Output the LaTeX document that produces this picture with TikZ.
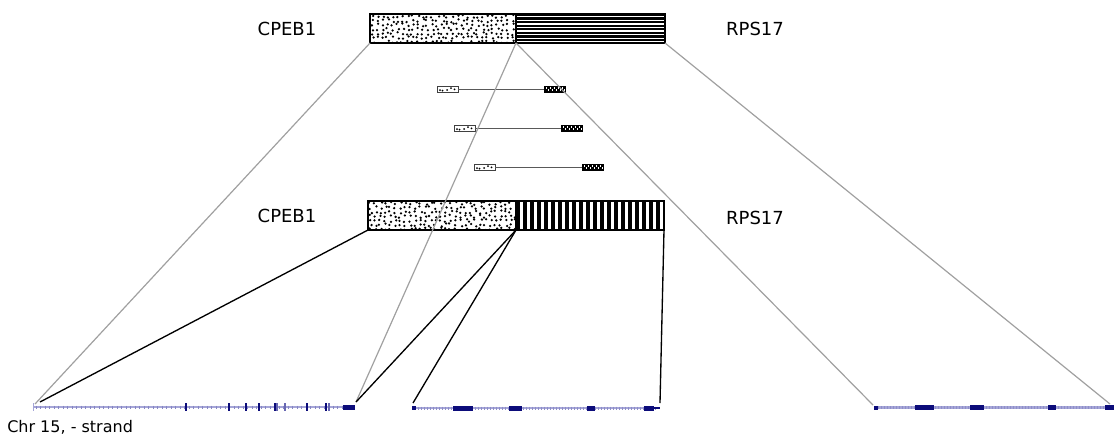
\documentclass[tikz,border=0pt]{standalone}
\usepackage{fontspec}
\setmainfont{DejaVu Sans}
\definecolor{exonblue}{RGB}{12,12,122}
\definecolor{intronblue}{RGB}{165,165,215}
\definecolor{guidegray}{RGB}{160,160,160}
% each fill macro takes a node name, clips to it and works in pixel offsets from its top-left corner
% scattered dots (node, columns, rows, seed)
\newcommand\dotfield[4]{%
  \pgfmathsetseed{#4}%
  \begin{scope}
    \clip (#1.north west) rectangle (#1.south east);
    \begin{scope}[shift={(#1.north west)}]
      \foreach \i in {0,...,#2}{\foreach \j in {0,...,#3}{
        \fill (\i*5+2.5+rand*1.7, \j*4.3+2.4+rand*1.5) circle[radius=0.95pt];
      }}
    \end{scope}
  \end{scope}
  \draw[line width=1pt] (#1.north west) rectangle (#1.south east);}
% horizontal black/white stripes
\newcommand\hstripes[1]{%
  \begin{scope}
    \clip (#1.north west) rectangle (#1.south east);
    \begin{scope}[shift={(#1.north west)}]
      \fill[black] (0,0) rectangle (150,30);
      \foreach \k in {0,...,7}{\fill[white] (0,1.9+\k*3.6) rectangle (150,3.4+\k*3.6);}
    \end{scope}
  \end{scope}
  \draw[line width=1pt] (#1.north west) rectangle (#1.south east);}
% vertical black/white stripes
\newcommand\vstripes[1]{%
  \begin{scope}
    \clip (#1.north west) rectangle (#1.south east);
    \begin{scope}[shift={(#1.north west)}]
      \foreach \k in {0,...,21}{\fill[black] (\k*7,0) rectangle (\k*7+3.6,30);}
    \end{scope}
  \end{scope}
  \draw[line width=1pt] (#1.north west) rectangle (#1.south east);}
% checkered fill of the small read boxes
\newcommand\checkfill[1]{%
  \begin{scope}
    \clip (#1.north west) rectangle (#1.south east);
    \begin{scope}[shift={(#1.north west)}]
      \fill[black] (0,0) rectangle (22,7);
      \foreach \k in {0,...,4}{
        \fill[white] (1.5+\k*4,1.2) rectangle (3+\k*4,2.7);
        \fill[white] (3.5+\k*4,3.4) rectangle (5+\k*4,4.9);}
    \end{scope}
  \end{scope}
  \draw[line width=0.5pt] (#1.north west) rectangle (#1.south east);}
% sparse dots of the small read boxes
\newcommand\sparsefill[1]{%
  \begin{scope}[shift={(#1.north west)}]
    \fill (3,4.2) circle[radius=0.75pt];
    \fill (5.5,4.6) circle[radius=0.75pt];
    \fill (10,4) circle[radius=0.75pt];
    \fill (14,2.2) circle[radius=0.75pt];
    \fill (17.5,3.4) circle[radius=0.75pt];
  \end{scope}}
\begin{document}
\begin{tikzpicture}[x=0.75pt,y=-0.75pt,
  barbox/.style={draw=black, line width=1pt, inner sep=0pt, outer sep=0pt,
    anchor=north west, minimum height=21.75pt},
  genelabel/.style={font=\fontsize{13.5}{16}\selectfont, inner sep=0pt},
  readleft/.style={draw=black!75, line width=0.5pt, inner sep=0pt, outer sep=0pt,
    anchor=west, minimum width=16pt, minimum height=4.5pt},
  readright/.style={draw=black, line width=0.5pt, inner sep=0pt, outer sep=0pt,
    anchor=west, minimum width=15.75pt, minimum height=4.5pt},
  readlink/.style={draw=black!65, line width=0.5pt},
  guide/.style={draw=guidegray, line width=0.9pt},
  link/.style={draw=black, line width=1pt},
  intron/.style={draw=intronblue, line width=1.6pt},
  exontick/.style={draw=exonblue, line width=1.1pt},
  exon/.style={fill=exonblue}
]
\useasboundingbox (0,0) rectangle (1114,436);

% fused transcript, first form
\node[barbox, minimum width=109.5pt] (cpebA) at (370,14) {};
\node[barbox, minimum width=111.75pt] (rpsA) at (516,14) {};
\dotfield{cpebA}{29}{6}{11}
\hstripes{rpsA}
\node[genelabel] (labCpebA) at (287,29) {CPEB1};
\node[genelabel] (labRpsA) at (755,29) {RPS17};

% fused transcript, second form
\node[barbox, minimum width=111pt] (cpebB) at (368,201) {};
\node[barbox, minimum width=111pt] (rpsB) at (516,201) {};
\dotfield{cpebB}{29}{6}{23}
\vstripes{rpsB}
\node[genelabel] (labCpebB) at (287,216) {CPEB1};
\node[genelabel] (labRpsB) at (755,218) {RPS17};

% supporting read pairs
\node[readleft] (r1a) at (437,89) {};
\node[readright] (r1b) at (544,89) {};
\sparsefill{r1a}\checkfill{r1b}
\draw[readlink] (r1a.east) -- (r1b.west);
\node[readleft] (r2a) at (454,128) {};
\node[readright] (r2b) at (561,128) {};
\sparsefill{r2a}\checkfill{r2b}
\draw[readlink] (r2a.east) -- (r2b.west);
\node[readleft] (r3a) at (474,167) {};
\node[readright] (r3b) at (582,167) {};
\sparsefill{r3a}\checkfill{r3b}
\draw[readlink] (r3a.east) -- (r3b.west);

% genomic tracks
% CPEB1 locus
\draw[intron] (33,407) -- (345,407);
\foreach \x in {36,40.5,...,342}{\draw[intronblue!80!exonblue, line width=0.4pt] (\x,405.5) -- (\x,408.5);}
\draw[intronblue, line width=1.2pt] (33.5,403) -- (33.5,411);
\foreach \x in {186,229,246,259,275,307,326}{\draw[exontick] (\x,403) -- (\x,411);}
\foreach \x in {277,285,329}{\draw[intronblue!60!exonblue, line width=1pt] (\x,403) -- (\x,411);}
\fill[exon] (343,405) rectangle (355,409.5);
\coordinate (g1l) at (35,404);
\coordinate (g1lb) at (40,402);
\coordinate (g1r) at (356,402);

% RPS17 locus, middle copy
\draw[intron] (413,408) -- (659,408);
\foreach \x in {415,418,...,656}{\draw[intronblue!85!exonblue, line width=0.3pt] (\x,406.5) -- (\x,409.5);}
\fill[exon] (412,406) rectangle (416,410);
\fill[exon] (453,405.5) rectangle (473,410.5);
\fill[exon] (509,405.5) rectangle (522,410.5);
\fill[exon] (587,405.5) rectangle (595,410.5);
\fill[exon] (644,405.5) rectangle (654,410.5);
\fill[exon] (654,407) rectangle (660,409);
\coordinate (g2l) at (413,403);
\coordinate (g2r) at (660,403);

% RPS17 locus, right copy
\draw[intron] (875,407.5) -- (1114,407.5);
\foreach \x in {878,881,...,1103}{\draw[intronblue!85!exonblue, line width=0.3pt] (\x,406) -- (\x,409);}
\fill[exon] (874,405.5) rectangle (878,409.5);
\fill[exon] (915,405) rectangle (934,410);
\fill[exon] (970,405) rectangle (984,410);
\fill[exon] (1048,405) rectangle (1056,410);
\fill[exon] (1105,405) rectangle (1114,410);
\coordinate (g3l) at (873,405);
\coordinate (g3r) at (1110,404);

\node[anchor=west, font=\fontsize{12}{14}\selectfont, inner sep=0pt] (chr) at (7,427) {Chr 15, - strand};

% guide lines from the first form
\draw[guide] (cpebA.south west) -- (g1l);
\draw[guide] (cpebA.south east) -- (g1r);
\draw[guide] (rpsA.south west) -- (g3l);
\draw[guide] (rpsA.south east) -- (g3r);

% breakpoint links from the second form
\draw[link] (cpebB.south west) -- (g1lb);
\draw[link] (cpebB.south east) -- (g1r);
\draw[link] (rpsB.south west) -- (g2l);
\draw[link] (rpsB.south east) -- (g2r);
\end{tikzpicture}
\end{document}
